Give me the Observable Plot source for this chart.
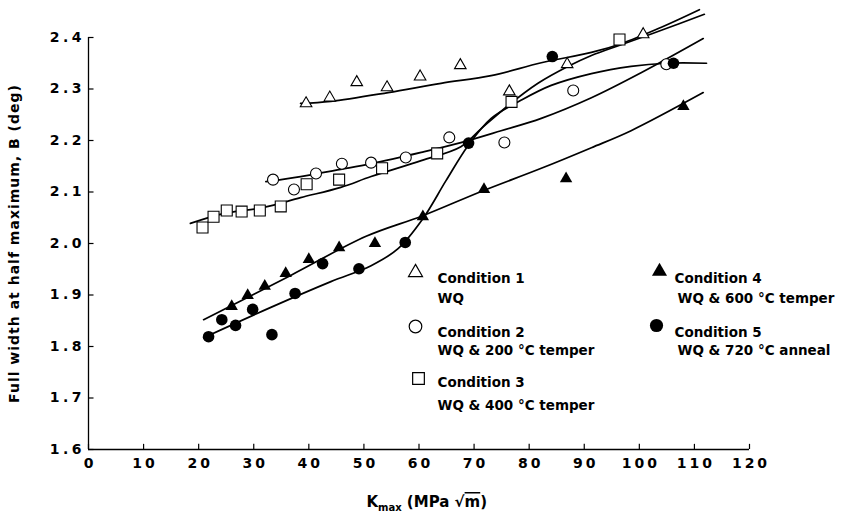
<!DOCTYPE html>
<html><head><meta charset="utf-8">
<script src="https://cdn.jsdelivr.net/npm/d3@7"></script>
<script src="https://cdn.jsdelivr.net/npm/@observablehq/plot@0.6"></script>
<style>
body{margin:0;background:#fff;}
#chart svg{display:block;}
</style>
</head><body><div id="chart"></div>
<script>
// ---- tick values ----
const xTicks = [0, 10, 20, 30, 40, 50, 60, 70, 80, 90, 100, 110, 120];
const yTicks = [1.6, 1.7, 1.8, 1.9, 2.0, 2.1, 2.2, 2.3, 2.4];

// ---- measured points ----
const c1X = [39.5, 43.8, 48.7, 54.2, 60.2, 67.5, 76.4, 86.9, 100.7];
const c1Y = [2.272, 2.283, 2.313, 2.303, 2.324, 2.346, 2.295, 2.348, 2.406];

const c2X = [33.5, 37.3, 41.3, 46.0, 51.3, 57.6, 65.5, 75.5, 88.0, 104.9];
const c2Y = [2.124, 2.105, 2.136, 2.155, 2.157, 2.167, 2.206, 2.196, 2.297, 2.348];

const c3X = [20.7, 22.7, 25.1, 27.8, 31.1, 34.9, 39.6, 45.5, 53.3, 63.3, 76.8, 96.4];
const c3Y = [2.031, 2.052, 2.064, 2.062, 2.064, 2.072, 2.115, 2.124, 2.146, 2.175, 2.275, 2.396];

const c4X = [26.0, 28.9, 32.0, 35.8, 40.0, 45.5, 52.0, 60.7, 71.8, 86.7, 108.0];
const c4Y = [1.878, 1.899, 1.917, 1.942, 1.969, 1.992, 2.000, 2.052, 2.105, 2.126, 2.266];

const c5X = [21.8, 24.2, 26.7, 29.8, 33.3, 37.5, 42.5, 49.1, 57.5, 69.0, 84.2, 106.2];
const c5Y = [1.819, 1.852, 1.841, 1.872, 1.823, 1.903, 1.961, 1.951, 2.002, 2.195, 2.363, 2.350];

// ---- fitted curves ----
const fit1X = [38.5, 44.0, 54.4, 64.0, 73.1, 82.2, 91.3, 96.7, 104.0, 110.9];
const fit1Y = [2.272, 2.276, 2.293, 2.311, 2.326, 2.351, 2.371, 2.388, 2.420, 2.454];

const fit2X = [32.2, 38.5, 45.8, 51.3, 60.4, 67.6, 74.9, 82.2, 91.3, 100.4, 111.6];
const fit2Y = [2.120, 2.130, 2.144, 2.155, 2.177, 2.196, 2.219, 2.243, 2.283, 2.332, 2.398];

const fit3X = [18.5, 24.5, 31.8, 38.5, 45.8, 51.3, 60.4, 67.6, 71.3, 76.2, 81.6, 87.1, 91.3, 96.7, 104.0, 111.8];
const fit3Y = [2.039, 2.058, 2.070, 2.089, 2.109, 2.130, 2.161, 2.188, 2.223, 2.268, 2.311, 2.344, 2.365, 2.386, 2.414, 2.445];

const fit4X = [20.9, 36.7, 50.4, 60.7, 71.3, 82.2, 91.3, 98.5, 111.6];
const fit4Y = [1.852, 1.938, 2.014, 2.054, 2.101, 2.146, 2.186, 2.219, 2.293];

const fit5X = [20.9, 33.1, 44.0, 51.3, 56.2, 60.7, 64.9, 68.9, 73.1, 78.5, 84.0, 91.3, 98.5, 104.9, 112.2];
const fit5Y = [1.817, 1.876, 1.926, 1.957, 1.990, 2.048, 2.122, 2.190, 2.243, 2.278, 2.307, 2.330, 2.344, 2.350, 2.350];

// ---- legend text ----
const legendTitles = ["Condition 1", "Condition 2", "Condition 3", "Condition 4", "Condition 5"];
const legendNotes = ["WQ", "WQ & 200 °C temper", "WQ & 400 °C temper", "WQ & 600 °C temper", "WQ & 720 °C anneal"];
const yLabel = "Full width at half maximum, B (deg)";

const zip = (xs, ys) => xs.map((x, i) => ({x, y: ys[i]}));

const FONT = "'DejaVu Sans', sans-serif";
const lineOpts = {x: "x", y: "y", stroke: "#000", strokeWidth: 1.7, curve: "catmull-rom"};
const openOpts = {x: "x", y: "y", fill: "#fff", stroke: "#000", strokeWidth: 1.1};
const fillOpts = {x: "x", y: "y", fill: "#000", stroke: "none"};

// legend layout (pixel offsets from the frame's top-left corner)
const legendSymbols = ["triangle", "circle", "square", "triangle", "circle"];
const legendFilled = [false, false, false, true, true];
const legendSymR = [5.2, 6.3, 6.6, 5.6, 6.6];
const legendSymPos = [[327, 235], [327, 289], [330, 341], [571, 234], [568, 288]];
const legendTextPos = [[349, 236], [349, 290], [349, 340], [586, 236], [586, 290]];
const legendNotePos = [[349, 256], [349, 308], [349, 363], [589, 256], [589, 308]];

const legendMarks = [];
legendTitles.forEach((t, i) => {
  legendMarks.push(Plot.dot([0], {
    frameAnchor: "top-left", dx: legendSymPos[i][0], dy: legendSymPos[i][1],
    symbol: legendSymbols[i], r: legendSymR[i],
    fill: legendFilled[i] ? "#000" : "#fff", stroke: "#000", strokeWidth: legendFilled[i] ? 0 : 1.2
  }));
  legendMarks.push(Plot.text([t], {
    frameAnchor: "top-left", dx: legendTextPos[i][0], dy: legendTextPos[i][1],
    textAnchor: "start", fontSize: 13.5, fontWeight: "bold", fill: "#000"
  }));
  legendMarks.push(Plot.text([legendNotes[i]], {
    frameAnchor: "top-left", dx: legendNotePos[i][0], dy: legendNotePos[i][1],
    textAnchor: "start", fontSize: 13.5, fontWeight: "bold", fill: "#000"
  }));
});

const chart = Plot.plot({
  width: 851, height: 512,
  marginLeft: 88, marginRight: 102, marginTop: 37, marginBottom: 63,
  x: {domain: [0, 120]},
  y: {domain: [1.6, 2.4]},
  style: {fontFamily: FONT, fontSize: "14px", background: "#fff", color: "#000", overflow: "visible"},
  marks: [
    // axis frame lines
    Plot.ruleX([0], {y1: 1.6, y2: 2.4, stroke: "#000", strokeWidth: 1.3}),
    Plot.ruleY([1.6], {x1: 0, x2: 120, stroke: "#000", strokeWidth: 1.3}),
    // inward ticks
    Plot.ruleY(yTicks, {x1: 0, x2: 1, stroke: "#000", strokeWidth: 1.2}),
    Plot.ruleX(xTicks, {y1: 1.6, y2: 1.61, stroke: "#000", strokeWidth: 1.2}),
    Plot.axisX({ticks: xTicks, tickSize: 0, tickPadding: 9, label: null, tickFormat: d => String(d),
      fontWeight: "bold"}),
    Plot.axisY({ticks: yTicks, tickSize: 0, tickPadding: 7, label: null, tickFormat: d => d.toFixed(1),
      fontWeight: "bold"}),
    // y label
    Plot.text([yLabel], {frameAnchor: "left", textAnchor: "middle", dx: -74, rotate: -90,
      fontSize: 14, fontWeight: "bold", fill: "#000"}),
    // fitted curves
    Plot.line(zip(fit1X, fit1Y), lineOpts),
    Plot.line(zip(fit2X, fit2Y), lineOpts),
    Plot.line(zip(fit3X, fit3Y), lineOpts),
    Plot.line(zip(fit4X, fit4Y), lineOpts),
    Plot.line(zip(fit5X, fit5Y), lineOpts),
    // data points
    Plot.dot(zip(c1X, c1Y), {...openOpts, symbol: "triangle", r: 4.3}),
    Plot.dot(zip(c2X, c2Y), {...openOpts, symbol: "circle", r: 5.5}),
    Plot.dot(zip(c3X, c3Y), {...openOpts, symbol: "square", r: 6.2}),
    Plot.dot(zip(c4X, c4Y), {...fillOpts, symbol: "triangle", r: 4.6}),
    Plot.dot(zip(c5X, c5Y), {...fillOpts, symbol: "circle", r: 5.8}),
    ...legendMarks
  ]
});

document.getElementById("chart").appendChild(chart);

const svg = d3.select(chart);
// widen tick label spacing like the original typeface
svg.selectAll('g[aria-label="x-axis tick label"] text')
  .style("letter-spacing", "3px").attr("dx", 1.5);
svg.selectAll('g[aria-label="y-axis tick label"] text')
  .style("letter-spacing", "3.5px").attr("dx", 3.5);
// y label letter spacing
svg.selectAll("text").filter(function () { return this.textContent === yLabel; })
  .style("letter-spacing", "1px");

// x-axis title with subscript and overlined radicand
const xs = chart.scale("x");
const t = svg.append("text")
  .attr("x", xs.apply(61.5)).attr("y", 507)
  .attr("text-anchor", "middle")
  .attr("font-family", FONT).attr("font-size", 15).attr("font-weight", "bold").attr("fill", "#000");
t.append("tspan").text("K");
t.append("tspan").attr("font-size", 10).attr("dy", 4).text("max");
t.append("tspan").attr("dy", -4).text(" (MPa ");
t.append("tspan").text("√");
t.append("tspan").style("text-decoration", "overline").text("m");
t.append("tspan").text(")");
</script>
</body></html>
